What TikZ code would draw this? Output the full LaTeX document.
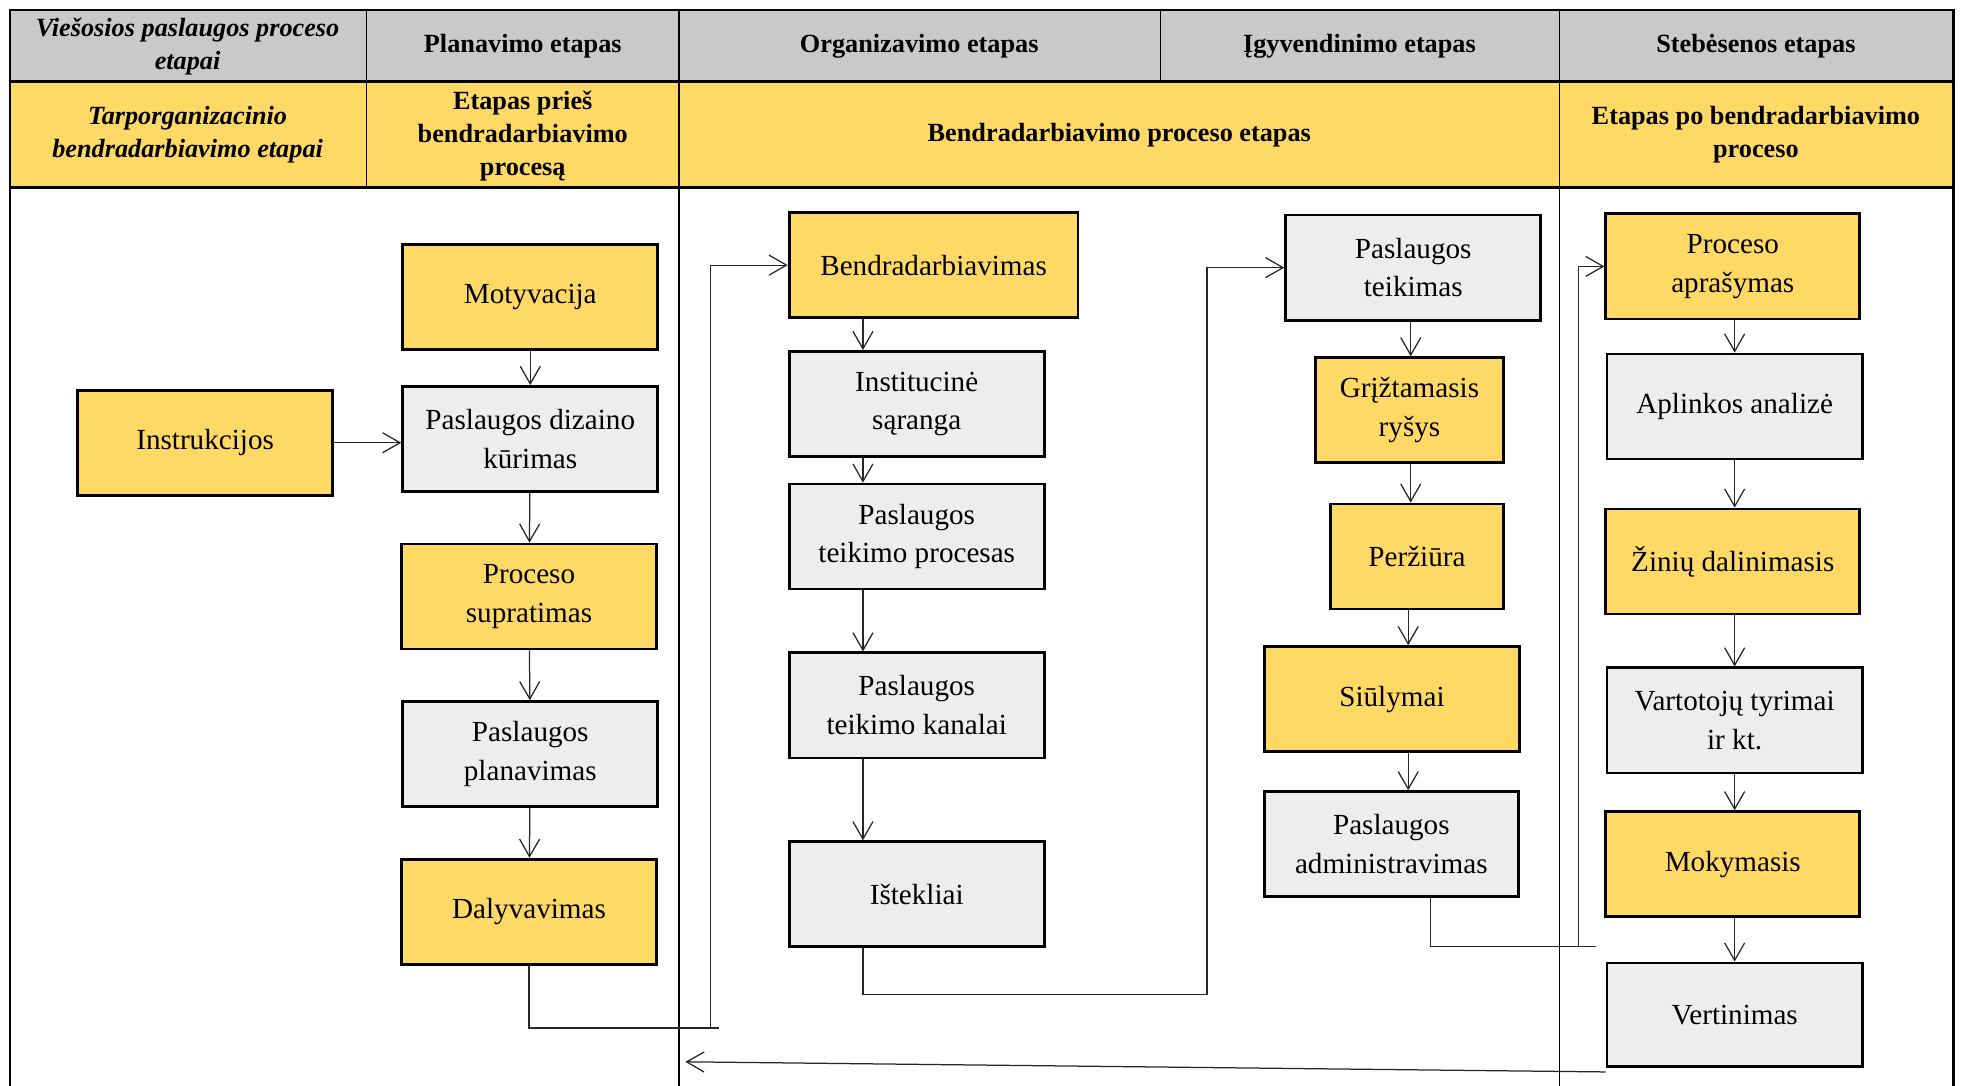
\documentclass[tikz,border=0pt]{standalone}
\usepackage{fontspec}
\setmainfont{Liberation Serif}
\usetikzlibrary{arrows.meta}
\definecolor{gold}{HTML}{FFD966}
\definecolor{hdrgray}{HTML}{C9C9C9}
\definecolor{boxgray}{HTML}{EDEDED}
\begin{document}
\begin{tikzpicture}[x=1pt,y=-1pt,
  box/.style={draw=black, line width=2.2pt, minimum width=204pt, minimum height=84pt, align=center, inner sep=2pt, font=\fontsize{23.3}{31}\selectfont},
  ybox/.style={box, fill=gold},
  gbox/.style={box, fill=boxgray},
  conn/.style={line width=1pt, draw=black!85, -{Straight Barb[length=14pt,width=16pt,line width=1pt]}},
  plain/.style={line width=1pt, draw=black!85},
  hdr/.style={font=\fontsize{21}{26.5}\selectfont\bfseries, align=center, inner sep=0pt},
  rowline/.style={line width=2.2pt},
  colline/.style={line width=1.3pt},
]
\useasboundingbox (0,0) rectangle (1568,868);

% ---------- table ----------
\fill[hdrgray] (8,8) rectangle (1562,65);
\fill[gold] (8,65) rectangle (1562,150);
\draw[rowline] (8,868) -- (8,8) -- (1562,8) -- (1562,868);
\draw[rowline] (8,65) -- (1562,65);
\draw[rowline] (8,150) -- (1562,150);
\draw[colline] (293,8) -- (293,150);
\draw[colline] (543,8) -- (543,868);
\draw[colline] (928,8) -- (928,65);
\draw[colline] (1247,8) -- (1247,868);

% header texts
\node[hdr] (h1) at (150,37) {\itshape Viešosios paslaugos proceso\\\itshape etapai};
\node[hdr] (h2) at (418,37) {Planavimo etapas};
\node[hdr] (h3) at (735,37) {Organizavimo etapas};
\node[hdr] (h4) at (1087,37) {Įgyvendinimo etapas};
\node[hdr] (h5) at (1404,37) {Stebėsenos etapas};
\node[hdr] (r1) at (150,108) {\itshape Tarporganizacinio\\\itshape bendradarbiavimo etapai};
\node[hdr] (r2) at (418,109) {Etapas prieš\\bendradarbiavimo\\procesą};
\node[hdr] (r3) at (895,108) {Bendradarbiavimo proceso etapas};
\node[hdr] (r4) at (1404,108) {Etapas po bendradarbiavimo\\proceso};

% ---------- boxes ----------
\node[ybox] (mot) at (424,237.5) {Motyvacija};
\node[ybox] (ins) at (164,354) {Instrukcijos};
\node[gbox] (pdk) at (424,351) {Paslaugos dizaino\\kūrimas};
\node[ybox] (psu) at (423,477) {Proceso\\supratimas};
\node[gbox] (ppl) at (424,603) {Paslaugos\\planavimas};
\node[ybox] (dal) at (423,729) {Dalyvavimas};

\node[ybox, minimum width=231pt] (ben) at (746.5,212) {Bendradarbiavimas};
\node[gbox] (isa) at (733,323) {Institucinė\\sąranga};
\node[gbox] (ptp) at (733,429) {Paslaugos\\teikimo procesas};
\node[gbox] (ptk) at (733,564) {Paslaugos\\teikimo kanalai};
\node[gbox] (ist) at (733,715) {Ištekliai};

\node[gbox] (pte) at (1130,214) {Paslaugos\\teikimas};
\node[ybox, minimum width=150pt] (grr) at (1127,328) {Grįžtamasis\\ryšys};
\node[ybox, minimum width=138pt] (per) at (1133,445) {Peržiūra};
\node[ybox] (siu) at (1113,559) {Siūlymai};
\node[gbox, minimum width=203pt] (pad) at (1112.5,675) {Paslaugos\\administravimas};

\node[ybox, minimum width=203pt] (pra) at (1385.5,213) {Proceso\\aprašymas};
\node[gbox] (apl) at (1387,325) {Aplinkos analizė};
\node[ybox, minimum width=203pt] (zin) at (1385.5,449) {Žinių dalinimasis};
\node[gbox] (var) at (1387,576) {Vartotojų tyrimai\\ir kt.};
\node[ybox, minimum width=203pt] (mok) at (1385.5,691) {Mokymasis};
\node[gbox, minimum height=83pt] (ver) at (1387,811.5) {Vertinimas};

% ---------- lanes / bends ----------
\coordinate (lA) at (690,0);
\coordinate (lB) at (1128,0);
\coordinate (lC) at (1126,0);
\coordinate (lD) at (1144,0);
\coordinate (lE) at (1387,0);
\coordinate (cA) at (568,822);
\coordinate (cB) at (965,795);
\coordinate (cC) at (1262,757);
\coordinate (cEnd) at (548,849);

% ---------- connectors ----------
\draw[conn] (mot) -- (pdk);
\draw[conn] (ins.east) -- (ins.east -| pdk.west);
\draw[conn] (pdk) -- (psu);
\draw[conn] (psu) -- (ppl);
\draw[conn] (ppl) -- (dal);
\draw[conn] (dal.south) |- (cA) |- (ben.west);
\draw[plain] (cA) -- ++(7,0);

\draw[conn] (ben.south -| lA) -- (isa.north -| lA);
\draw[conn] (isa.south -| lA) -- (ptp.north -| lA);
\draw[conn] (ptp.south -| lA) -- (ptk.north -| lA);
\draw[conn] (ptk.south -| lA) -- (ist.north -| lA);
\draw[conn] (ist.south -| lA) |- (cB) |- (pte.west);

\draw[conn] (pte.south -| lB) -- (grr.north -| lB);
\draw[conn] (grr.south -| lB) -- (per.north -| lB);
\draw[conn] (per.south -| lC) -- (siu.north -| lC);
\draw[conn] (siu.south -| lC) -- (pad.north -| lC);
\draw[conn] (pad.south -| lD) |- (cC) |- (pra.west);
\draw[plain] (cC) -- ++(14,0);

\draw[conn] (pra.south -| lE) -- (apl.north -| lE);
\draw[conn] (apl.south -| lE) -- (zin.north -| lE);
\draw[conn] (zin.south -| lE) -- (var.north -| lE);
\draw[conn] (var.south -| lE) -- (mok.north -| lE);
\draw[conn] (mok.south -| lE) -- (ver.north -| lE);
\draw[conn] ([yshift=-3pt]ver.south west) -- (cEnd);
\end{tikzpicture}
\end{document}
